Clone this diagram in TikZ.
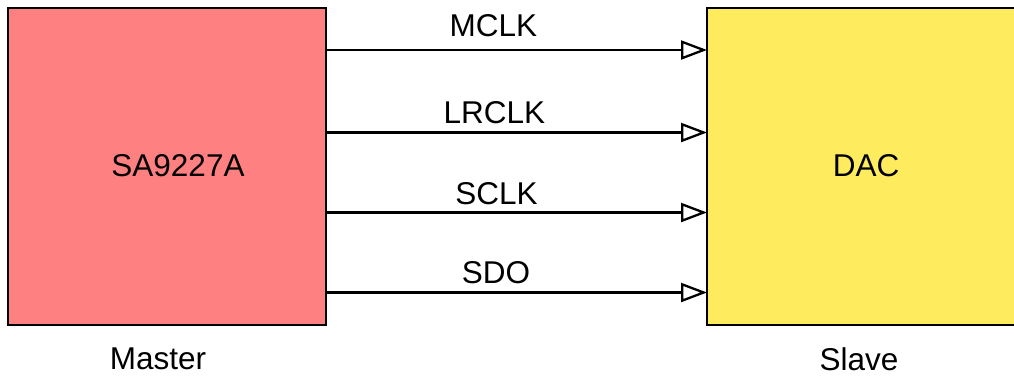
\documentclass[tikz,border=0pt]{standalone}
\usepackage{fontspec}
\setmainfont{Liberation Sans}
\usetikzlibrary{arrows.meta}
\definecolor{mpink}{RGB}{255,128,128}
\definecolor{myellow}{RGB}{255,235,94}
\begin{document}
\begin{tikzpicture}[x=1pt,y=-1pt,
  box/.style={draw=black,line width=2.6pt,inner sep=0pt,outer sep=0pt},
  lbl/.style={anchor=base,inner sep=0pt,font=\fontsize{31.5}{36}\selectfont},
  sig/.style={line width=2.3pt,-{Triangle[open,length=26pt,width=19pt,line width=2.3pt]}}]
\useasboundingbox (0,0) rectangle (1014,376);
\clip (0,0) rectangle (1014,376);
\node[box,fill=mpink,minimum width=318pt,minimum height=317pt] (master) at (167,166.5) {};
\node[box,fill=myellow,minimum width=318pt,minimum height=317pt] (dac) at (866,166.5) {};
\node[lbl] (t1) at (178,176) {SA9227A};
\node[lbl] (t2) at (866,176) {DAC};
\node[lbl] (t3) at (158,369) {Master};
\node[lbl] (t4) at (859,370) {Slave};
\coordinate (a1) at (master.east |- 0,50);
\coordinate (b1) at (dac.west |- 0,50);
\coordinate (a2) at (master.east |- 0,132.5);
\coordinate (b2) at (dac.west |- 0,132.5);
\coordinate (a3) at (master.east |- 0,212.5);
\coordinate (b3) at (dac.west |- 0,212.5);
\coordinate (a4) at (master.east |- 0,292.5);
\coordinate (b4) at (dac.west |- 0,292.5);
\draw[sig] (a1) -- (b1);
\draw[sig] (a2) -- (b2);
\draw[sig] (a3) -- (b3);
\draw[sig] (a4) -- (b4);
\node[lbl] (l1) at (493.5,36) {MCLK};
\node[lbl] (l2) at (494.5,123) {LRCLK};
\node[lbl] (l3) at (496.5,204) {SCLK};
\node[lbl] (l4) at (496,283) {SDO};
\end{tikzpicture}
\end{document}
